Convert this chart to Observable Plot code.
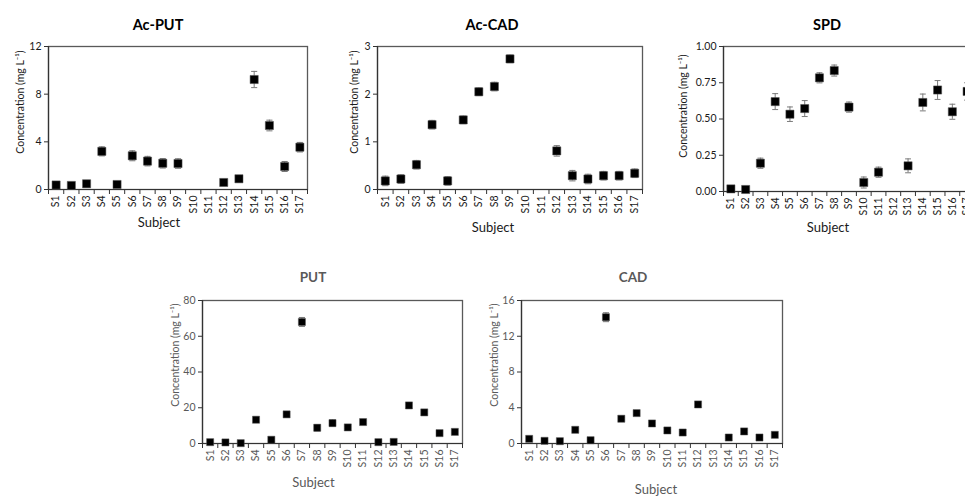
<!DOCTYPE html>
<html><head><meta charset="utf-8">
<script src="https://cdn.jsdelivr.net/npm/d3@7"></script>
<script src="https://cdn.jsdelivr.net/npm/@observablehq/plot@0.6"></script>
<style>
body{margin:0;background:#fff;overflow:hidden;font-family:Lato,"Open Sans",sans-serif}
#root{position:relative;width:965px;height:497px;overflow:hidden;background:#fff}
.panel{position:absolute}
.panel svg{max-width:none !important}
.title{position:absolute;font-weight:bold;transform:translate(-50%,-50%);white-space:nowrap;font-family:Lato,sans-serif}
</style></head><body><div id="root"></div>
<script>
const subjects = ["S1","S2","S3","S4","S5","S6","S7","S8","S9","S10","S11","S12","S13","S14","S15","S16","S17"];

const acPutValues = [0.38,0.34,0.48,3.2,0.42,2.83,2.38,2.2,2.18,null,null,0.59,0.9,9.23,5.37,1.93,3.55];
const acPutErrors = [0.05,0.05,0.06,0.38,0.05,0.42,0.4,0.4,0.4,null,null,0.06,0.08,0.68,0.45,0.42,0.4];

const acCadValues = [0.18,0.22,0.52,1.36,0.18,1.46,2.05,2.16,2.74,null,null,0.81,0.29,0.22,0.29,0.29,0.34];
const acCadErrors = [0.1,0.09,0.09,0.09,0.09,0.08,0.08,0.09,0.08,null,null,0.11,0.11,0.1,0.09,0.09,0.09];

const spdValues = [0.018,0.014,0.195,0.62,0.533,0.572,0.784,0.834,0.582,0.062,0.133,null,0.177,0.614,0.70,0.55,0.69];
const spdErrors = [0.01,0.01,0.035,0.055,0.05,0.055,0.035,0.038,0.035,0.038,0.035,null,0.048,0.058,0.065,0.052,0.06];

const putValues = [0.75,0.6,0.2,13.3,2.1,16.3,68.0,8.8,11.4,9.0,12.0,0.75,0.9,21.3,17.4,5.8,6.5];
const putErrors = [0.3,0.3,0.2,0.8,0.8,0.6,2.5,1.8,1.8,0.7,0.8,0.3,0.3,0.9,0.8,0.6,0.6];

const cadValues = [0.52,0.3,0.26,1.53,0.37,14.13,2.77,3.4,2.24,1.46,1.23,4.37,null,0.67,1.35,0.67,0.97];
const cadErrors = [0.1,0.05,0.05,0.12,0.08,0.5,0.15,0.15,0.12,0.1,0.1,0.3,null,0.1,0.12,0.1,0.12];

const acPutTicks = [0,4,8,12];
const acCadTicks = [0,1,2,3];
const spdTicks = [0,0.25,0.5,0.75,1];
const putTicks = [0,20,40,60,80];
const cadTicks = [0,4,8,12,16];

const yLabel = "Concentration (mg L\u207B\u00B9)";
const xLabel = "Subject";

const panels = [
  {title:"Ac-PUT", values:acPutValues, errors:acPutErrors, ticks:acPutTicks, fmt:d3.format("d"),
   left:0, top:40, width:320, height:200, mL:48, mT:6, mR:13, mB:51,
   titleX:158, titleY:24, ylDx:-28, ylDy:-16, xlDx:-19, xlDy:33, color:"#1a1a1a", titleColor:"#000", r:4.6},
  {title:"Ac-CAD", values:acCadValues, errors:acCadErrors, ticks:acCadTicks, fmt:d3.format("d"),
   left:320, top:40, width:330, height:200, mL:57, mT:6, mR:8, mB:51,
   titleX:492, titleY:24, ylDx:-23, ylDy:-16, xlDx:-17, xlDy:38, color:"#1a1a1a", titleColor:"#000", r:4.6},
  {title:"SPD", values:spdValues, errors:spdErrors, ticks:spdTicks, fmt:d3.format(".2f"),
   left:640, top:40, width:345, height:200, mL:83, mT:6, mR:11, mB:49,
   titleX:827, titleY:24, ylDx:-40, ylDy:-13, xlDx:-21, xlDy:36, color:"#1a1a1a", titleColor:"#000", r:4.6},
  {title:"PUT", values:putValues, errors:putErrors, ticks:putTicks, fmt:d3.format("d"),
   left:150, top:290, width:320, height:207, mL:52, mT:10, mR:8, mB:54,
   titleX:313, titleY:277, ylDx:-27, ylDy:-17, xlDx:-19, xlDy:39, color:"#595959", titleColor:"#595959", r:4.0},
  {title:"CAD", values:cadValues, errors:cadErrors, ticks:cadTicks, fmt:d3.format("d"),
   left:480, top:290, width:310, height:207, mL:41, mT:10, mR:8, mB:54,
   titleX:633, titleY:277, ylDx:-27, ylDy:-17, xlDx:4, xlDy:46, color:"#595959", titleColor:"#595959", r:4.0}
];

const root = document.getElementById("root");

for (const p of panels) {
  const rows = subjects.map((s, i) => ({s, x: i + 0.5, v: p.values[i], e: p.errors[i]}))
    .filter(d => d.v != null);
  const yMax = p.ticks[p.ticks.length - 1];
  const chart = Plot.plot({
    width: p.width, height: p.height,
    marginLeft: p.mL, marginTop: p.mT, marginRight: p.mR, marginBottom: p.mB,
    style: {fontFamily: "Lato, 'Open Sans', sans-serif", fontSize: "10px", color: p.color, background: "transparent", overflow: "visible", maxWidth: "none"},
    x: {type: "linear", domain: [0, subjects.length]},
    y: {domain: [0, yMax]},
    marks: [
      Plot.frame({stroke: "#595959", strokeWidth: 1.3}),
      Plot.axisY(p.ticks, {tickSize: 4, tickPadding: 3, tickFormat: p.fmt, label: null, stroke: "#333", fontSize: 10.5}),
      Plot.axisX(subjects.map((s, i) => i + 0.5), {tickSize: 0, tickPadding: 6, tickRotate: -90,
        tickFormat: d => subjects[Math.floor(d)], label: null, fontSize: 10.5}),
      Plot.axisX(d3.range(subjects.length + 1), {tickSize: 5, tickFormat: () => "", label: null, stroke: "#333"}),
      Plot.ruleY([0], {stroke: "#333", strokeWidth: 1.2}),
      Plot.ruleX([0], {stroke: "#333", strokeWidth: 1.2}),
      Plot.ruleX(rows, {x: "x", y1: d => d.v - d.e, y2: d => d.v + d.e, stroke: "#7a7a7a", strokeWidth: 1}),
      Plot.link(rows, {x1: d => d.x - 0.2, x2: d => d.x + 0.2, y1: d => d.v + d.e, y2: d => d.v + d.e, stroke: "#7a7a7a", strokeWidth: 1}),
      Plot.link(rows, {x1: d => d.x - 0.2, x2: d => d.x + 0.2, y1: d => Math.max(0, d.v - d.e), y2: d => Math.max(0, d.v - d.e), stroke: "#7a7a7a", strokeWidth: 1}),
      Plot.dot(rows, {x: "x", y: "v", symbol: "square", r: p.r, fill: "#000", stroke: "#555", strokeWidth: 0.5}),
      Plot.text([yLabel], {frameAnchor: "left", textAnchor: "middle", lineAnchor: "middle", rotate: -90, dx: p.ylDx, dy: p.ylDy, fontSize: 10.5, fill: p.color}),
      Plot.text([xLabel], {frameAnchor: "bottom", textAnchor: "middle", lineAnchor: "middle", dx: p.xlDx, dy: p.xlDy, fontSize: 13, fill: p.color})
    ]
  });
  chart.style.maxWidth = "none";
  const wrap = document.createElement("div");
  wrap.className = "panel";
  wrap.style.left = p.left + "px";
  wrap.style.top = p.top + "px";
  wrap.style.width = p.width + "px";
  wrap.style.height = p.height + "px";
  wrap.appendChild(chart);
  root.appendChild(wrap);

  const t = document.createElement("div");
  t.className = "title";
  t.textContent = p.title;
  t.style.left = p.titleX + "px";
  t.style.top = p.titleY + "px";
  t.style.color = p.titleColor;
  t.style.fontSize = p.top > 100 ? "13.5px" : "14.5px";
  root.appendChild(t);
}
</script>
</body></html>
